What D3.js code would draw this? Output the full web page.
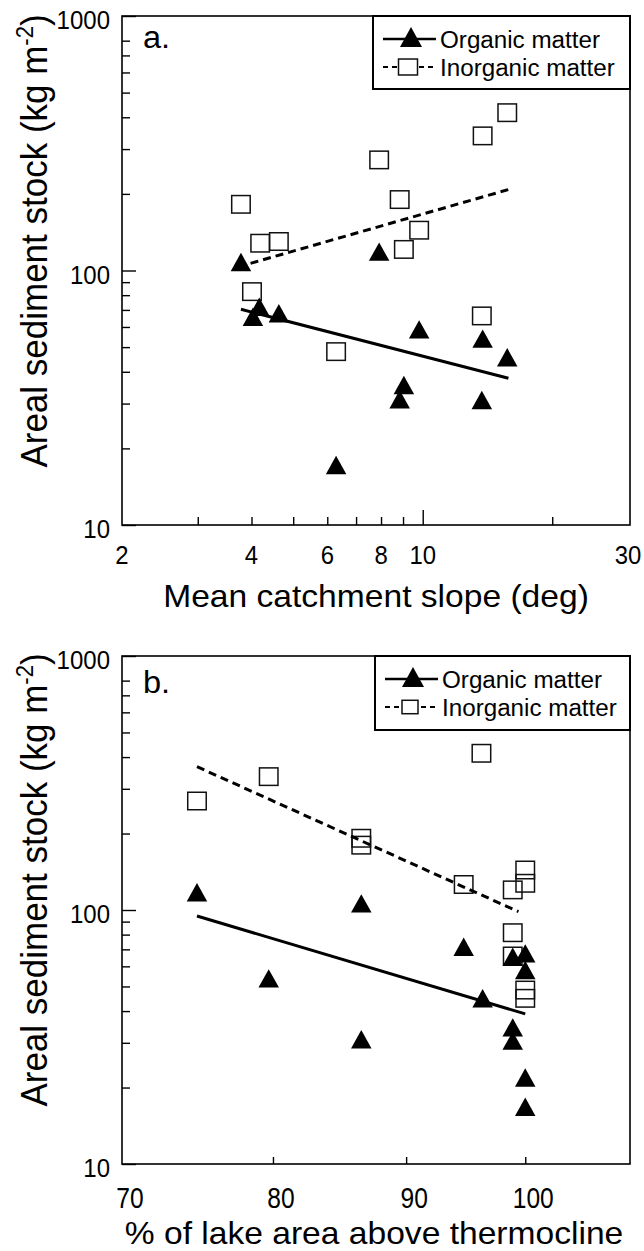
<!DOCTYPE html>
<html>
<head>
<meta charset="utf-8">
<script src="https://cdn.jsdelivr.net/npm/d3@7"></script>
<style>
  body { margin: 0; background: #fff; }
  svg { display: block; }
  text { font-family: "Liberation Sans", Arial, sans-serif; fill: #000; }
</style>
</head>
<body>
<svg id="chart" width="644" height="1251"></svg>
<script>
// panel a: mean catchment slope (deg) vs areal stock (kg m-2)
const slopeOrg   = [3.78, 7.92, 4.03, 4.17, 4.63, 9.81, 13.78, 15.72, 9.04, 8.84, 13.72, 6.29];
const stockOrgA  = [108, 118.6, 65.8, 72, 67.9, 58.7, 54, 45.6, 35.5, 31.2, 31, 17.2];
const slopeInorg = [3.78, 4.19, 4.63, 4.01, 7.92, 8.84, 9.81, 9.04, 13.78, 15.72, 13.72, 6.29];
const stockInorgA = [182, 128, 130, 82.6, 272, 190, 144, 121, 338, 417, 66.3, 48];
const fitOrgA   = [[3.78, 70.4], [15.82, 37.7]];
const fitInorgA = [[3.98, 106.7], [15.82, 208]];

// panel b: % of lake area above thermocline vs areal stock
const thermoOrg  = [74.8, 86.5, 94.7, 98.9, 100, 100, 79.7, 96.3, 98.9, 98.9, 86.5, 100, 100];
const stockOrgB  = [117.4, 106.2, 71.7, 65.5, 67.5, 58, 53.8, 44.9, 34.5, 30.6, 31, 21.9, 16.8];
const thermoInorg = [74.8, 79.7, 86.5, 86.5, 96.2, 94.7, 98.9, 100, 100, 98.9, 98.9, 100, 100];
const stockInorgB = [268.6, 335, 191.6, 180, 414, 126, 120, 143.7, 127.4, 81.4, 65.9, 48.4, 44.9];
const fitOrgB   = [[74.8, 94.7], [100, 39]];
const fitInorgB = [[74.8, 366.7], [99.4, 98.5]];

// ticks
const yMajor = [10, 100, 1000];
const yMinor = [20, 30, 40, 50, 60, 70, 80, 90, 200, 300, 400, 500, 600, 700, 800];
const yLabels = ['10', '100', '1000'];
const xMajorA = [10];
const xMinorA = [3, 4, 5, 6, 7, 8, 9, 20];
const xLabelsA = [2, 4, 6, 8, 10, 30];
const xMinorB = [80, 90, 100];
const xLabelsB = [70, 80, 90, 100];

const seriesNames = ['Organic matter', 'Inorganic matter'];

const svg = d3.select('#chart');
const FRAME_L = 122, FRAME_R = 630;

function stretchText(g, x, y, str, size, sx, anchor) {
    return g.append('text')
        .attr('transform', `translate(${x},${y}) scale(${sx},1)`)
        .attr('text-anchor', anchor || 'start')
        .style('font-size', size + 'px')
        .text(str);
}

const triPath = s => `M0,${-s * 0.45}L${s / 2},${s * 0.45}L${-s / 2},${s * 0.45}Z`;

function drawPanel(p) {
    const g = svg.append('g');
    const x = p.x, y = p.y;
    const top = y.range()[1], bottom = y.range()[0];

    // inward ticks
    const tickAxis = (axis, vals, len) => axis.tickValues(vals).tickSize(-len).tickFormat('');
    g.append('g').attr('transform', `translate(0,${bottom})`)
        .call(tickAxis(d3.axisBottom(x), p.xMinor, p.xMinorLen));
    if (p.xMajor.length) {
        g.append('g').attr('transform', `translate(0,${bottom})`)
            .call(tickAxis(d3.axisBottom(x), p.xMajor, 15));
    }
    g.append('g').attr('transform', `translate(${FRAME_L},0)`)
        .call(tickAxis(d3.axisLeft(y), yMinor, 8));
    g.append('g').attr('transform', `translate(${FRAME_L},0)`)
        .call(tickAxis(d3.axisLeft(y), yMajor, 14));
    g.selectAll('.domain').remove();
    g.selectAll('.tick line').attr('stroke', '#000').attr('stroke-width', 1.4);

    g.append('rect')
        .attr('x', FRAME_L).attr('y', top)
        .attr('width', FRAME_R - FRAME_L).attr('height', bottom - top)
        .attr('fill', 'none').attr('stroke', '#000').attr('stroke-width', 1.6);

    // tick labels
    yMajor.forEach((v, i) => stretchText(g, 110, y(v) + 13, yLabels[i], 25, 0.96, 'end'));
    p.xLabels.forEach(v => stretchText(g, x(v) + p.xLabelDx, bottom + p.xLabelDy, String(v), p.xLabelSize, p.xLabelSx, 'middle'));

    // axis titles
    stretchText(g, p.titleX, p.titleY, p.xTitle, 32, 1.05, 'middle');
    const yt = g.append('text')
        .attr('transform', `translate(47,${p.yTitleY}) scale(1.05,1) rotate(-90)`)
        .attr('text-anchor', 'middle')
        .style('font-size', '35px');
    yt.append('tspan').text('Areal sediment stock (kg m');
    yt.append('tspan').attr('dy', -13).style('font-size', '22px').text('-2');
    yt.append('tspan').attr('dy', 13).text(')');

    stretchText(g, 143, p.letterY, p.letter, 31, 1.05, 'start');

    // squares (open), then triangles, then fit lines
    g.selectAll('.sq').data(p.inorgX.map((v, i) => [v, p.inorgY[i]]))
        .enter().append('rect')
        .attr('x', d => x(d[0]) - 9.25).attr('y', d => y(d[1]) - 8.75)
        .attr('width', 18.5).attr('height', 17.5)
        .attr('fill', 'none').attr('stroke', '#111').attr('stroke-width', 1.5);

    g.selectAll('.tri').data(p.orgX.map((v, i) => [v, p.orgY[i]]))
        .enter().append('path')
        .attr('d', triPath(20.5))
        .attr('transform', d => `translate(${x(d[0])},${y(d[1])})`)
        .attr('fill', '#000');

    const line = d3.line().x(d => x(d[0])).y(d => y(d[1]));
    g.append('path').attr('d', line(p.fitOrg))
        .attr('fill', 'none').attr('stroke', '#000').attr('stroke-width', 3);
    g.append('path').attr('d', line(p.fitInorg))
        .attr('fill', 'none').attr('stroke', '#000').attr('stroke-width', 3)
        .attr('stroke-dasharray', '8,5');

    // legend
    const L = p.legend;
    const lg = g.append('g');
    lg.append('rect').attr('x', L.x).attr('y', L.y).attr('width', FRAME_R - L.x).attr('height', L.h)
        .attr('fill', '#fff').attr('stroke', '#000').attr('stroke-width', 2);
    const r1 = L.y + 23, r2 = L.y + 51;
    lg.append('line').attr('x1', L.x + 10).attr('x2', L.x + 63).attr('y1', r1).attr('y2', r1)
        .attr('stroke', '#000').attr('stroke-width', 2.5);
    lg.append('path').attr('d', triPath(22)).attr('transform', `translate(${L.x + 38},${r1 - 2})`).attr('fill', '#000');
    lg.append('line').attr('x1', L.x + 10).attr('x2', L.x + 63).attr('y1', r2).attr('y2', r2)
        .attr('stroke', '#000').attr('stroke-width', 2).attr('stroke-dasharray', '5,4');
    lg.append('rect').attr('x', L.x + 35 - L.sq / 2).attr('y', r2 - L.sq * 0.42)
        .attr('width', L.sq).attr('height', L.sq * 0.84)
        .attr('fill', '#fff').attr('stroke', '#111').attr('stroke-width', 1.5);
    stretchText(lg, L.x + 67, r1 + 9, seriesNames[0], 23.5, 1.03, 'start');
    stretchText(lg, L.x + 67, r2 + 9, seriesNames[1], 23.5, 1.03, 'start');
}

drawPanel({
    x: d3.scaleLog().domain([2, 30]).range([FRAME_L, 628]),
    y: d3.scaleLog().domain([10, 1000]).range([525, 16]),
    xMinor: xMinorA, xMajor: xMajorA, xMinorLen: 8,
    xLabels: xLabelsA, xLabelDx: 0, xLabelDy: 39, xLabelSize: 26, xLabelSx: 0.92,
    xTitle: 'Mean catchment slope (deg)', titleX: 376, titleY: 607,
    yTitleY: 241, letter: 'a.', letterY: 48,
    orgX: slopeOrg, orgY: stockOrgA, inorgX: slopeInorg, inorgY: stockInorgA,
    fitOrg: fitOrgA, fitInorg: fitInorgA,
    legend: { x: 373, y: 16, h: 73, sq: 19 }
});

drawPanel({
    x: d3.scaleLog().domain([70, 110]).range([FRAME_L, 633]),
    y: d3.scaleLog().domain([10, 1000]).range([1164, 656]),
    xMinor: xMinorB, xMajor: [], xMinorLen: 7,
    xLabels: xLabelsB, xLabelDx: 8, xLabelDy: 44, xLabelSize: 30, xLabelSx: 0.82,
    xTitle: '% of lake area above thermocline', titleX: 374, titleY: 1244,
    yTitleY: 880, letter: 'b.', letterY: 693,
    orgX: thermoOrg, orgY: stockOrgB, inorgX: thermoInorg, inorgY: stockInorgB,
    fitOrg: fitOrgB, fitInorg: fitInorgB,
    legend: { x: 375, y: 656, h: 74, sq: 16 }
});
</script>
</body>
</html>
